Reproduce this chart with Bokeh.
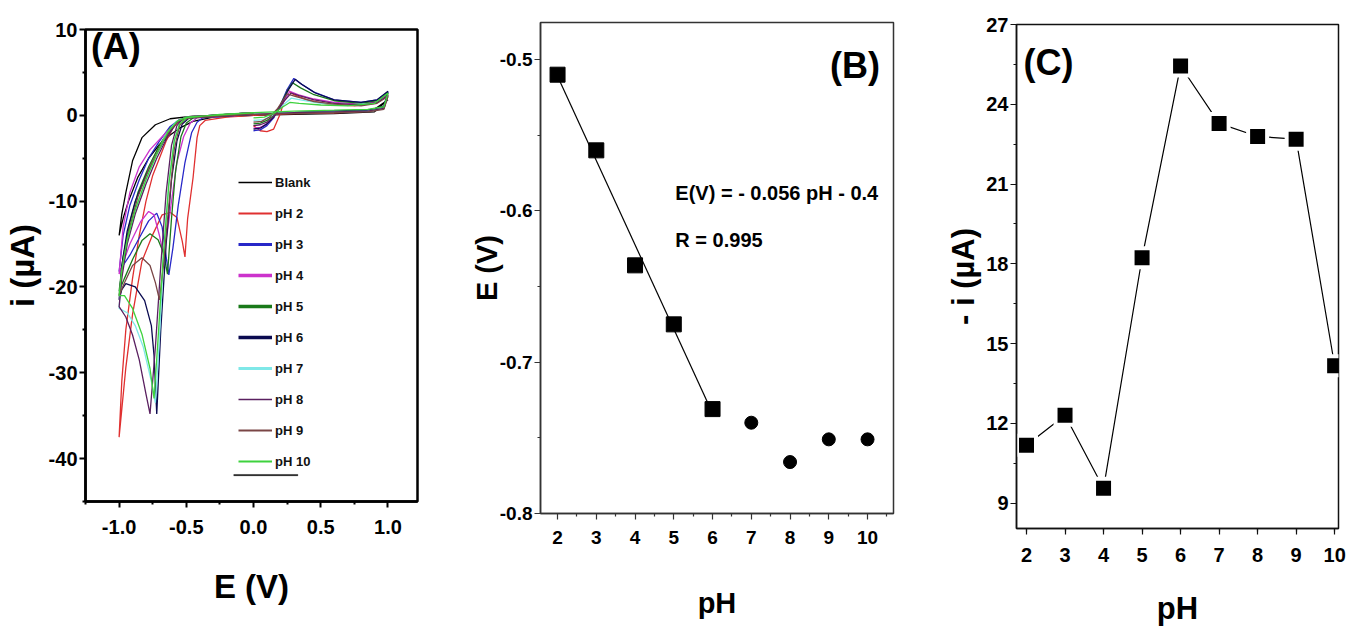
import numpy as np
from bokeh.plotting import figure
from bokeh.layouts import row
from bokeh.models import (Range1d, Label, Legend, LegendItem, FixedTicker,
                          BoxAnnotation, NumeralTickFormatter)
from bokeh.embed import file_html
from bokeh.resources import INLINE

FONT = "Liberation Sans"

# ---------------- Panel A : cyclic voltammograms (E in V, i in uA) ----------------
CV_BLANK = [(1.00,1.8),(0.90,0.4),(0.60,0.2),(0.30,0.1),(0.00,0.0),(-0.30,-0.2),(-0.45,-0.7),
            (-0.55,-1.5),(-0.62,-2.3),(-0.70,-3.4),(-0.78,-5.0),(-0.86,-7.2),(-0.93,-10.0),
            (-0.97,-12.0),(-1.00,-14.0),(-0.98,-11.5),(-0.95,-9.0),(-0.90,-5.3),(-0.83,-2.6),
            (-0.73,-1.1),(-0.62,-0.4),(-0.45,-0.1),(0.00,0.1),(0.30,0.3),(0.60,0.4),(0.90,0.7),(1.00,1.8)]
CV_PH2 = [(0.0,-1.2),(0.05,-1.8),(0.10,-1.9),(0.15,-1.6),(0.20,0.2),(0.25,3.0),(0.30,2.4),(0.40,1.8),
          (0.55,1.3),(0.75,1.1),(0.90,1.4),(1.00,2.4),(0.97,0.9),(0.85,0.5),(0.60,0.3),(0.30,0.2),
          (0.00,0.0),(-0.20,-0.2),(-0.36,-0.6),(-0.40,-1.2),(-0.42,-2.6),(-0.45,-7.3),(-0.49,-12.0),
          (-0.51,-16.5),(-0.53,-14.7),(-0.57,-11.9),(-0.62,-11.3),(-0.68,-11.6),(-0.75,-13.9),
          (-0.83,-17.0),(-0.90,-23.2),(-0.95,-29.4),(-1.00,-37.5),(-0.98,-31.0),(-0.95,-25.0),
          (-0.90,-19.0),(-0.85,-14.0),(-0.80,-10.0),(-0.75,-7.0),(-0.70,-5.0),(-0.65,-3.0),
          (-0.60,-1.5),(-0.55,-0.6),(-0.45,-0.2),(-0.20,0.1),(0.00,0.3)]
CV_PH3 = [(0.0,-1.8),(0.05,-1.7),(0.10,-1.2),(0.15,-0.3),(0.20,1.2),(0.25,3.0),(0.30,4.3),(0.35,3.7),
          (0.45,2.7),(0.60,1.8),(0.80,1.5),(0.92,1.8),(1.00,2.7),(0.97,1.0),(0.85,0.6),(0.60,0.5),
          (0.30,0.3),(0.00,0.1),(-0.20,-0.1),(-0.38,-0.3),(-0.42,-0.8),(-0.46,-2.0),(-0.51,-5.5),
          (-0.56,-10.5),(-0.60,-15.5),(-0.63,-18.6),(-0.65,-16.5),(-0.68,-13.0),(-0.72,-11.4),
          (-0.78,-12.3),(-0.85,-14.3),(-0.92,-16.3),(-1.00,-18.2),(-0.97,-14.0),(-0.92,-10.5),
          (-0.85,-7.5),(-0.78,-5.0),(-0.70,-3.0),(-0.62,-1.3),(-0.55,-0.5),(-0.40,-0.1),(0.00,0.3)]
CV_PH4 = [(0.0,-1.5),(0.05,-1.4),(0.10,-1.0),(0.15,-0.2),(0.20,1.0),(0.27,2.8),(0.33,2.4),(0.45,1.9),
          (0.60,1.5),(0.80,1.3),(0.92,1.6),(1.00,2.4),(0.97,0.9),(0.85,0.5),(0.60,0.4),(0.30,0.3),
          (0.00,0.1),(-0.20,-0.1),(-0.42,-0.3),(-0.47,-0.9),(-0.52,-2.5),(-0.57,-5.5),(-0.61,-10.0),
          (-0.64,-13.5),(-0.67,-16.3),(-0.70,-14.0),(-0.74,-11.6),(-0.78,-11.2),(-0.84,-12.4),
          (-0.92,-15.0),(-1.00,-18.5),(-0.97,-13.0),(-0.92,-9.0),(-0.85,-6.0),(-0.77,-4.0),
          (-0.68,-2.5),(-0.60,-1.2),(-0.52,-0.4),(-0.30,0.0),(0.00,0.3)]
CV_PH5 = [(0.0,-1.0),(0.05,-0.9),(0.10,-0.6),(0.15,0.0),(0.20,1.2),(0.25,2.8),(0.29,3.8),(0.35,3.2),
          (0.45,2.4),(0.60,1.7),(0.80,1.4),(0.92,1.7),(1.00,2.6),(0.97,0.8),(0.85,0.5),(0.60,0.4),
          (0.30,0.3),(0.00,0.1),(-0.25,-0.1),(-0.45,-0.3),(-0.50,-0.9),(-0.54,-2.5),(-0.58,-6.5),
          (-0.61,-12.0),(-0.64,-18.5),(-0.67,-16.0),(-0.71,-14.5),(-0.77,-13.8),(-0.83,-14.6),
          (-0.90,-16.8),(-0.96,-19.0),(-1.00,-20.5),(-0.97,-16.5),(-0.92,-12.5),(-0.86,-9.0),
          (-0.78,-6.0),(-0.70,-3.5),(-0.62,-1.5),(-0.55,-0.5),(-0.40,-0.1),(0.00,0.3)]
CV_PH6 = [(0.0,-1.6),(0.05,-1.5),(0.10,-1.0),(0.15,-0.2),(0.20,1.1),(0.26,3.0),(0.31,4.2),(0.36,3.6),
          (0.46,2.6),(0.60,1.8),(0.80,1.5),(0.92,1.8),(1.00,2.8),(0.97,1.0),(0.85,0.6),(0.60,0.5),
          (0.30,0.3),(0.00,0.1),(-0.25,-0.1),(-0.48,-0.3),(-0.53,-1.0),(-0.57,-3.0),(-0.61,-7.5),
          (-0.65,-15.0),(-0.69,-25.0),(-0.72,-34.8),(-0.74,-28.0),(-0.76,-24.5),(-0.81,-21.6),
          (-0.88,-20.0),(-0.95,-19.6),(-0.98,-20.3),(-1.00,-21.5),(-0.98,-17.5),(-0.94,-13.5),
          (-0.88,-10.0),(-0.80,-7.0),(-0.72,-4.5),(-0.65,-2.5),(-0.58,-0.9),(-0.50,-0.3),(0.00,0.2)]
CV_PH7 = [(0.0,-0.6),(0.08,-0.5),(0.16,0.2),(0.22,1.2),(0.28,2.0),(0.35,1.8),(0.50,1.4),(0.70,1.2),
          (0.90,1.4),(1.00,2.2),(0.97,0.8),(0.85,0.5),(0.60,0.4),(0.30,0.3),(0.00,0.2),(-0.25,0.0),
          (-0.50,-0.3),(-0.55,-1.0),(-0.59,-3.0),(-0.63,-8.0),(-0.67,-16.5),(-0.70,-26.0),
          (-0.73,-33.5),(-0.76,-31.0),(-0.82,-27.0),(-0.88,-24.5),(-0.94,-23.0),(-1.00,-22.5),
          (-0.98,-18.5),(-0.94,-15.0),(-0.88,-11.0),(-0.80,-7.5),(-0.72,-4.5),(-0.65,-2.2),
          (-0.58,-0.8),(-0.50,-0.2),(0.00,0.3)]
CV_PH8 = [(0.0,-1.2),(0.05,-1.1),(0.10,-0.8),(0.16,0.0),(0.22,1.5),(0.28,2.6),(0.34,2.3),(0.45,1.8),
          (0.60,1.4),(0.80,1.2),(0.92,1.5),(1.00,2.3),(0.97,0.8),(0.85,0.5),(0.60,0.4),(0.30,0.3),
          (0.00,0.1),(-0.25,-0.1),(-0.52,-0.3),(-0.57,-1.2),(-0.61,-3.5),(-0.65,-9.0),(-0.69,-17.5),
          (-0.73,-27.0),(-0.77,-34.8),(-0.80,-32.5),(-0.85,-28.5),(-0.90,-25.6),(-0.95,-23.5),
          (-1.00,-22.3),(-0.98,-19.0),(-0.94,-15.0),(-0.88,-11.5),(-0.80,-8.0),(-0.72,-5.0),
          (-0.64,-2.5),(-0.57,-0.8),(-0.50,-0.2),(0.00,0.3)]
CV_PH9 = [(0.0,-0.8),(0.06,-0.7),(0.12,-0.2),(0.18,0.8),(0.25,2.5),(0.31,2.2),(0.45,1.6),(0.60,1.3),
          (0.80,1.1),(0.92,1.4),(1.00,2.2),(0.97,0.7),(0.85,0.4),(0.60,0.3),(0.30,0.2),(0.00,0.1),
          (-0.25,-0.1),(-0.50,-0.3),(-0.55,-1.2),(-0.59,-4.0),(-0.63,-10.5),(-0.67,-17.5),
          (-0.70,-21.5),(-0.73,-19.5),(-0.77,-17.5),(-0.83,-16.6),(-0.90,-17.5),(-0.96,-19.5),
          (-1.00,-21.0),(-0.97,-17.0),(-0.92,-13.0),(-0.86,-9.5),(-0.78,-6.3),(-0.70,-3.8),
          (-0.62,-1.7),(-0.55,-0.6),(-0.40,-0.1),(0.00,0.3)]
CV_PH10 = [(0.0,-0.3),(0.08,-0.2),(0.16,0.3),(0.22,1.0),(0.27,1.5),(0.34,1.4),(0.50,1.2),(0.70,1.1),
           (0.90,1.4),(1.00,2.6),(0.97,1.0),(0.85,0.7),(0.60,0.6),(0.30,0.5),(0.00,0.3),(-0.25,0.1),
           (-0.50,-0.3),(-0.55,-1.0),(-0.59,-3.0),(-0.63,-8.0),(-0.67,-16.0),(-0.71,-26.0),
           (-0.74,-33.0),(-0.77,-29.5),(-0.83,-25.5),(-0.90,-22.5),(-0.96,-21.0),(-1.00,-21.0),
           (-0.98,-18.0),(-0.94,-14.5),(-0.88,-11.0),(-0.80,-7.5),(-0.72,-4.5),(-0.64,-2.0),
           (-0.57,-0.7),(-0.50,-0.2),(0.00,0.3)]

CV_LABELS = ["Blank", "pH 2", "pH 3", "pH 4", "pH 5", "pH 6", "pH 7", "pH 8", "pH 9", "pH 10"]
CV_DATA = [CV_BLANK, CV_PH2, CV_PH3, CV_PH4, CV_PH5, CV_PH6, CV_PH7, CV_PH8, CV_PH9, CV_PH10]
CV_COLORS = ["#000000", "#e03030", "#2828c8", "#cc33cc", "#1a7a1a", "#0a0a50",
             "#7fe8e8", "#5a2060", "#7a4646", "#3ed23e"]
LEGEND_WIDTHS = [1.5, 2, 3, 3.5, 3.5, 3.5, 3, 1.5, 2, 2]

# ---------------- Panel B : peak potential vs pH ----------------
PH = [2, 3, 4, 5, 6, 7, 8, 9, 10]
E_PEAK = [-0.510, -0.560, -0.636, -0.675, -0.731, -0.740, -0.766, -0.751, -0.751]
N_FIT = 5   # first five points (pH 2-6) used in the linear fit

# ---------------- Panel C : peak current vs pH ----------------
I_PEAK = [11.18, 12.31, 9.56, 18.23, 25.44, 23.28, 22.79, 22.69, 14.17]


def style_axes(p, tick_size, axis_color, axis_width, label_size):
    for ax in (p.xaxis[0], p.yaxis[0]):
        ax.axis_line_color = axis_color
        ax.axis_line_width = axis_width
        ax.major_tick_line_color = axis_color
        ax.minor_tick_line_color = axis_color
        ax.major_tick_line_width = axis_width * 0.8
        ax.minor_tick_line_width = axis_width * 0.8
        ax.major_tick_in = 0
        ax.major_tick_out = 6
        ax.minor_tick_in = 0
        ax.minor_tick_out = 3
        ax.major_label_text_font = FONT
        ax.major_label_text_font_style = "bold"
        ax.major_label_text_font_size = tick_size
        ax.major_label_text_color = "black"
        ax.axis_label_text_font = FONT
        ax.axis_label_text_font_style = "bold"
        ax.axis_label_text_font_size = label_size
        ax.axis_label_text_color = "black"
    p.grid.visible = False
    p.outline_line_color = axis_color
    p.outline_line_width = axis_width
    p.background_fill_color = "white"
    p.border_fill_color = "white"


H = 631
NAN = float("nan")

# ---- Panel A ----
pA = figure(width=460, height=H, output_backend="svg", toolbar_location=None,
            title_location=None, frame_align=False,
            x_range=Range1d(-1.25, 1.22), y_range=Range1d(-45, 10),
            min_border_left=83, min_border_right=43, min_border_top=29, min_border_bottom=130)
pA.xaxis.axis_label = "E (V)"
pA.yaxis.axis_label = "i (µA)"
style_axes(pA, "20px", "black", 2.5, "33px")
pA.xaxis.ticker = FixedTicker(ticks=[-1.0, -0.5, 0.0, 0.5, 1.0],
                              minor_ticks=[-1.25, -0.75, -0.25, 0.25, 0.75, 1.25])
pA.yaxis.ticker = FixedTicker(ticks=[-40, -30, -20, -10, 0, 10],
                              minor_ticks=[-45, -35, -25, -15, -5, 5])
pA.xaxis.formatter = NumeralTickFormatter(format="0.0")
pA.yaxis.formatter = NumeralTickFormatter(format="0")
pA.xaxis.major_label_standoff = 12
pA.yaxis.major_label_standoff = 2
pA.xaxis.axis_label_standoff = 31
pA.yaxis.axis_label_standoff = 5

items = []
for lab, data, col, lw in zip(CV_LABELS, CV_DATA, CV_COLORS, LEGEND_WIDTHS):
    xs = [d[0] for d in data]
    ys = [d[1] for d in data]
    pA.line(xs, ys, line_color=col, line_width=1.3)
    dummy = pA.line([NAN], [NAN], line_color=col, line_width=lw)
    items.append(LegendItem(label=lab, renderers=[dummy]))

leg = Legend(items=items, location=(153, 30), orientation="vertical",
             glyph_width=34, glyph_height=20, label_height=20, spacing=11,
             label_standoff=3, padding=0, margin=0,
             border_line_color=None, background_fill_alpha=0,
             label_text_font=FONT, label_text_font_style="bold",
             label_text_font_size="13px", label_text_color="#111111")
pA.add_layout(leg, "center")
pA.add_layout(BoxAnnotation(left=-0.147, right=0.33, bottom=-42.0, top=-41.85,
                            fill_color="black", fill_alpha=1, line_color="black",
                            line_width=1))
pA.add_layout(Label(x=-1.21, y=8.0, text="(A)", text_font=FONT, text_font_style="bold",
                    text_font_size="36px", text_baseline="middle", text_align="left",
                    text_color="black"))

# ---- Panel B ----
pB = figure(width=450, height=H, output_backend="svg", toolbar_location=None,
            title_location=None, frame_align=False,
            x_range=Range1d(1.56, 10.67), y_range=Range1d(-0.8, -0.4755),
            min_border_left=80, min_border_right=17, min_border_top=22, min_border_bottom=118)
pB.xaxis.axis_label = "pH"
pB.yaxis.axis_label = "E (V)"
style_axes(pB, "19px", "#333333", 1.5, "29px")
pB.xaxis.ticker = FixedTicker(ticks=PH, minor_ticks=[1.5 + 0.5 * k for k in range(0, 19, 2)])
pB.yaxis.ticker = FixedTicker(ticks=[-0.8, -0.7, -0.6, -0.5],
                              minor_ticks=[-0.75, -0.65, -0.55])
pB.yaxis.formatter = NumeralTickFormatter(format="0.0")
pB.xaxis.major_label_standoff = 11
pB.yaxis.major_label_standoff = 2
pB.xaxis.axis_label_standoff = 40
pB.yaxis.axis_label_standoff = -6

coef = np.polyfit(PH[:N_FIT], E_PEAK[:N_FIT], 1)
fit_x = [PH[0], PH[N_FIT - 1]]
fit_y = [coef[0] * v + coef[1] for v in fit_x]
pB.line(fit_x, fit_y, line_color="black", line_width=1.2)
pB.scatter(PH[:N_FIT], E_PEAK[:N_FIT], marker="square", size=15, color="black")
pB.scatter(PH[N_FIT:], E_PEAK[N_FIT:], marker="circle", size=13, color="black")
pB.add_layout(Label(x=5.04, y=-0.5882, text="E(V) = - 0.056 pH - 0.4", text_font=FONT,
                    text_font_style="bold", text_font_size="20px", text_baseline="middle",
                    text_color="black"))
pB.add_layout(Label(x=5.04, y=-0.619, text="R = 0.995", text_font=FONT,
                    text_font_style="bold", text_font_size="20px", text_baseline="middle",
                    text_color="black"))
pB.add_layout(Label(x=10.32, y=-0.504, text="(B)", text_font=FONT, text_font_style="bold",
                    text_font_size="36px", text_baseline="middle", text_align="right",
                    text_color="black"))

# ---- Panel C ----
pC = figure(width=436, height=H, output_backend="svg", toolbar_location=None,
            title_location=None, frame_align=False,
            x_range=Range1d(1.74, 10.1), y_range=Range1d(8.05, 27),
            min_border_left=106, min_border_right=8, min_border_top=24, min_border_bottom=103)
pC.xaxis.axis_label = "pH"
pC.yaxis.axis_label = "- i (µA)"
style_axes(pC, "20px", "#111111", 1.5, "31px")
pC.xaxis.ticker = FixedTicker(ticks=PH, minor_ticks=[1.5 + 0.5 * k for k in range(1, 19, 2)])
pC.yaxis.ticker = FixedTicker(ticks=[9, 12, 15, 18, 21, 24, 27],
                              minor_ticks=[10.5, 13.5, 16.5, 19.5, 22.5, 25.5])
pC.xaxis.major_label_standoff = 13
pC.yaxis.major_label_standoff = 2
pC.xaxis.axis_label_standoff = 26
pC.yaxis.axis_label_standoff = 2
pC.line(PH, I_PEAK, line_color="black", line_width=1.2)
pC.scatter(PH, I_PEAK, marker="square", size=19, fill_color="black",
           line_color="white", line_width=4)
pC.add_layout(Label(x=1.92, y=25.58, text="(C)", text_font=FONT, text_font_style="bold",
                    text_font_size="36px", text_baseline="middle", text_align="left",
                    text_color="black"))

layout = row(pA, pB, pC, spacing=0)
open("out.html", "w").write(file_html(layout, INLINE))
